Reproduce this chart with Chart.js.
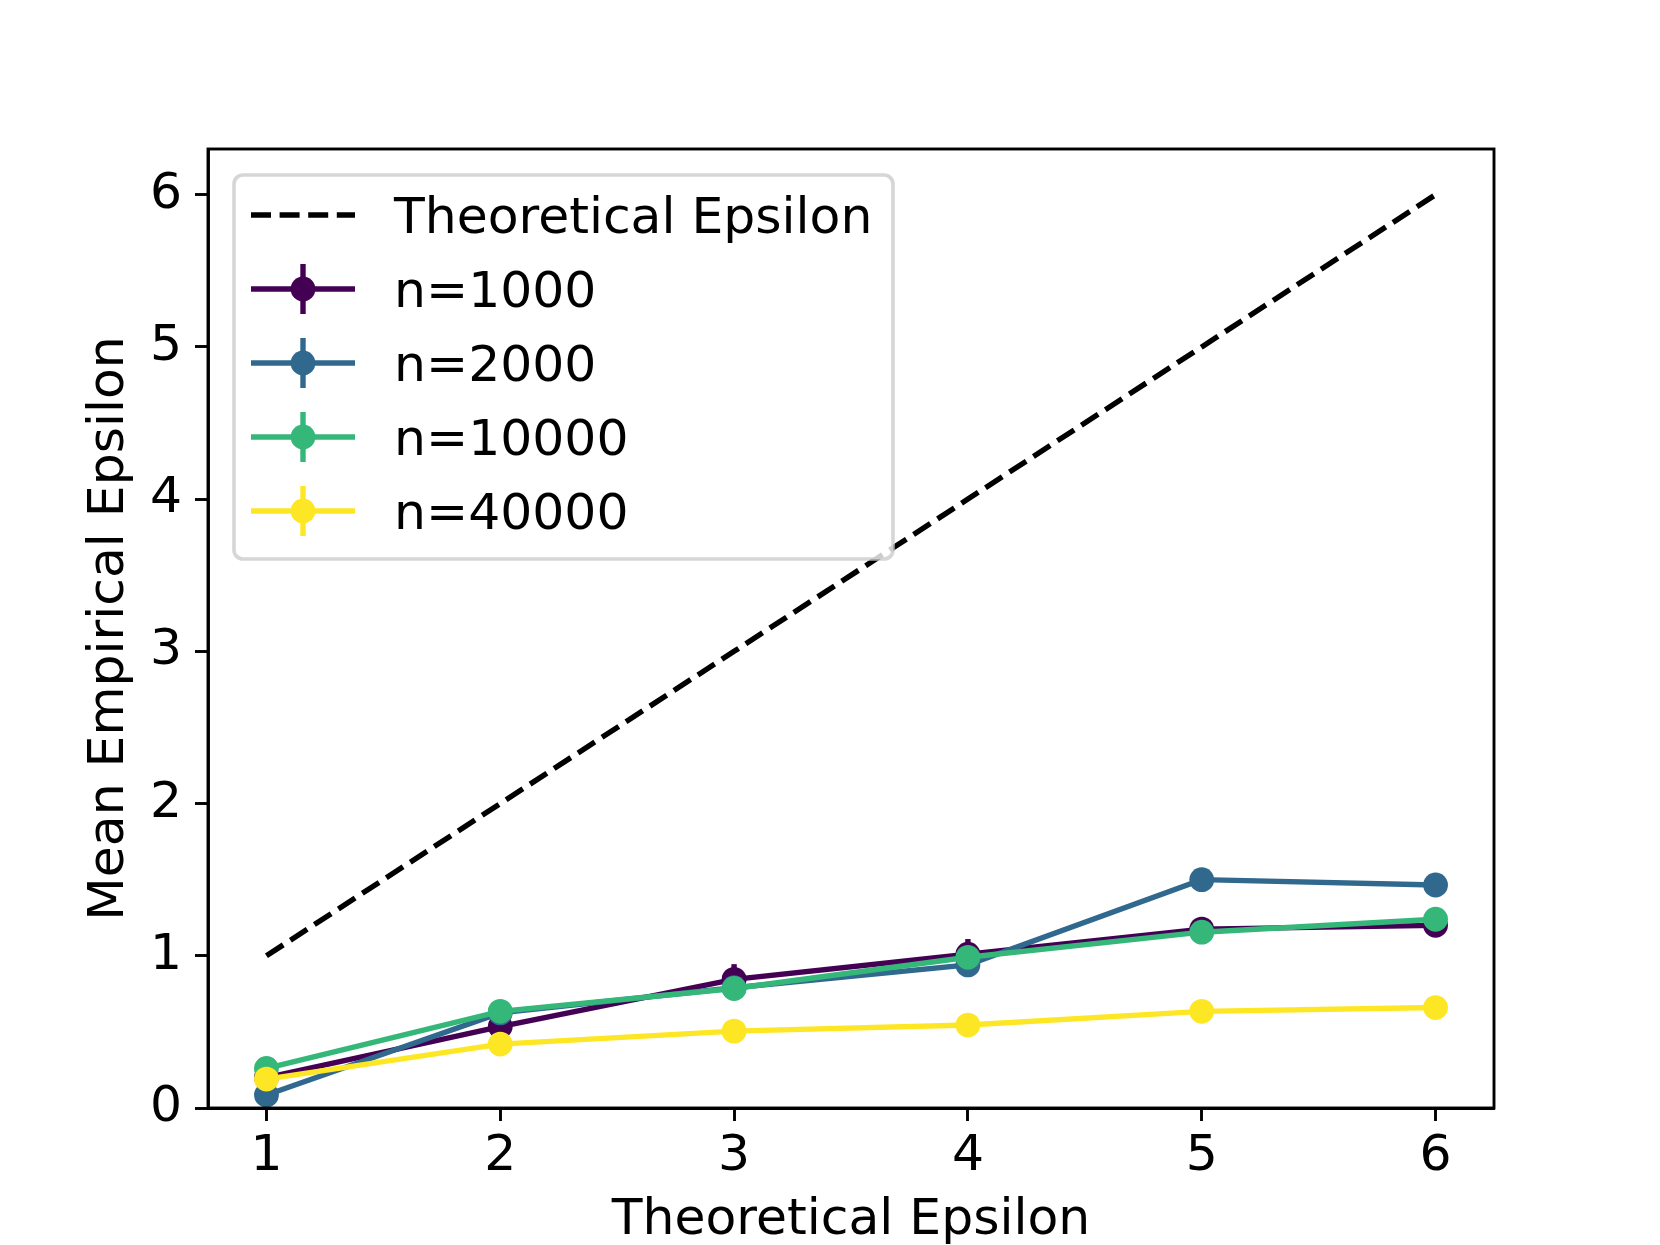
<!DOCTYPE html>
<html>
<head>
<meta charset="utf-8">
<script src="https://cdn.jsdelivr.net/npm/chart.js@4.4.0/dist/chart.umd.min.js"></script>
<style>
    html, body { margin: 0; padding: 0; background: #fff; }
    #wrap { width: 1660px; height: 1245px; }
</style>
</head>
<body>
<div id="wrap"><canvas id="epsChart" width="1660" height="1245"></canvas></div>
<script>
// Veriler
const epsilons = [1, 2, 3, 4, 5, 6];
const xTicks = [1, 2, 3, 4, 5, 6];
const yTicks = [0, 1, 2, 3, 4, 5, 6];
const theoretical = [1, 2, 3, 4, 5, 6];
const seriesLabels = ['n=1000', 'n=2000', 'n=10000', 'n=40000'];
const seriesColors = ['#440154', '#31688e', '#35b779', '#fde725'];
const mean1000 = [0.20, 0.535, 0.845, 1.01, 1.175, 1.20];
const mean2000 = [0.085, 0.625, 0.79, 0.94, 1.50, 1.465];
const mean10000 = [0.26, 0.635, 0.785, 0.99, 1.155, 1.24];
const mean40000 = [0.19, 0.42, 0.505, 0.545, 0.635, 0.66];
const err1000 = [0.04, 0.05, 0.10, 0.10, 0.08, 0.05];
const err2000 = [0.02, 0.03, 0.03, 0.03, 0.04, 0.04];
const err10000 = [0.01, 0.01, 0.01, 0.02, 0.02, 0.02];
const err40000 = [0.01, 0.01, 0.01, 0.01, 0.01, 0.01];

const means = [mean1000, mean2000, mean10000, mean40000];
const errors = [err1000, err2000, err10000, err40000];

const FONT = 'DejaVu Sans';
const FS = 50.4;      // 14pt
const LW = 5.4;       // 1.5pt
const MS = 12.4;      // marker yarıçapı (kenar dahil)

const toPoints = arr => arr.map((v, i) => ({ x: epsilons[i], y: v }));

const datasets = [
    {
        label: 'Theoretical Epsilon',
        data: toPoints(theoretical),
        borderColor: '#000',
        borderWidth: LW,
        borderDash: [20, 8.6],
        pointRadius: 0,
        fill: false,
        order: 4
    }
];
seriesLabels.forEach((lab, k) => {
    datasets.push({
        label: lab,
        data: toPoints(means[k]),
        errors: errors[k],
        borderColor: seriesColors[k],
        backgroundColor: seriesColors[k],
        pointBackgroundColor: seriesColors[k],
        pointBorderWidth: 0,
        pointRadius: MS,
        borderWidth: LW,
        fill: false,
        tension: 0,
        order: 3 - k
    });
});

// Hata çubukları
const errorBars = {
    id: 'errorBars',
    afterDatasetDraw(chart, args) {
        const ds = chart.data.datasets[args.index];
        if (!ds.errors) return;
        const { ctx, scales: { x, y } } = chart;
        ctx.save();
        ctx.strokeStyle = ds.borderColor;
        ctx.lineWidth = LW;
        ds.data.forEach((p, i) => {
            const px = x.getPixelForValue(p.x);
            ctx.beginPath();
            ctx.moveTo(px, y.getPixelForValue(p.y - ds.errors[i]));
            ctx.lineTo(px, y.getPixelForValue(p.y + ds.errors[i]));
            ctx.stroke();
        });
        ctx.restore();
    }
};

// Çerçeve ve lejant
const frameLegend = {
    id: 'frameLegend',
    afterDatasetsDraw(chart) {
        const { ctx, chartArea: a } = chart;
        ctx.save();
        ctx.strokeStyle = '#000';
        ctx.lineWidth = 2.9;
        ctx.strokeRect(a.left, a.top, a.right - a.left, a.bottom - a.top);

        // lejant kutusu
        const bx = 234, by = 175, bw = 659, bh = 384, r = 9;
        ctx.beginPath();
        ctx.roundRect(bx, by, bw, bh, r);
        ctx.fillStyle = 'rgba(255,255,255,0.8)';
        ctx.fill();
        ctx.strokeStyle = 'rgba(204,204,204,0.8)';
        ctx.lineWidth = 3.6;
        ctx.stroke();

        const x0 = 251, x1 = 355, xc = 303, tx = 394;
        const rowY = i => 215 + i * 74;
        ctx.font = FS + 'px "' + FONT + '"';
        ctx.textBaseline = 'alphabetic';
        ctx.textAlign = 'left';

        chart.data.datasets.forEach((ds, i) => {
            const yy = rowY(i);
            ctx.strokeStyle = ds.borderColor;
            ctx.lineWidth = LW;
            ctx.setLineDash(ds.borderDash || []);
            ctx.beginPath();
            ctx.moveTo(x0, yy);
            ctx.lineTo(x1, yy);
            ctx.stroke();
            ctx.setLineDash([]);
            if (ds.errors) {
                ctx.beginPath();
                ctx.moveTo(xc, yy - 25);
                ctx.lineTo(xc, yy + 25);
                ctx.stroke();
                ctx.fillStyle = ds.borderColor;
                ctx.beginPath();
                ctx.arc(xc, yy, MS, 0, Math.PI * 2);
                ctx.fill();
            }
            ctx.fillStyle = '#000';
            ctx.fillText(ds.label, tx, yy + 18);
        });
        ctx.restore();
    }
};

const tickFont = { family: FONT, size: FS };

new Chart(document.getElementById('epsChart').getContext('2d'), {
    type: 'line',
    data: { datasets: datasets },
    options: {
        responsive: false,
        animation: false,
        devicePixelRatio: 1,
        layout: { padding: { top: 149, right: 166, left: 0, bottom: 0 } },
        plugins: { legend: { display: false }, tooltip: { enabled: false } },
        scales: {
            x: {
                type: 'linear',
                min: 0.75,
                max: 6.25,
                afterBuildTicks: s => { s.ticks = xTicks.map(v => ({ value: v })); },
                afterFit: s => { s.height = 137; },
                ticks: { font: tickFont, color: '#000', padding: 6, maxRotation: 0 },
                grid: { drawOnChartArea: false, drawTicks: true, tickLength: 13, tickWidth: 2.9, tickColor: '#000' },
                border: { display: true, color: '#000', width: 2.9 },
                title: { display: true, text: 'Theoretical Epsilon', font: tickFont, color: '#000', padding: { top: 0, bottom: -6 } }
            },
            y: {
                type: 'linear',
                min: 0,
                max: 6.3,
                afterBuildTicks: s => { s.ticks = yTicks.map(v => ({ value: v })); },
                afterFit: s => { s.width = 208; },
                ticks: { font: tickFont, color: '#000', padding: 13 },
                grid: { drawOnChartArea: false, drawTicks: true, tickLength: 13, tickWidth: 2.9, tickColor: '#000' },
                border: { display: true, color: '#000', width: 2.9 },
                title: { display: true, text: 'Mean Empirical Epsilon', font: tickFont, color: '#000', padding: { top: 80, bottom: 0 } }
            }
        }
    },
    plugins: [errorBars, frameLegend]
});
</script>
</body>
</html>
